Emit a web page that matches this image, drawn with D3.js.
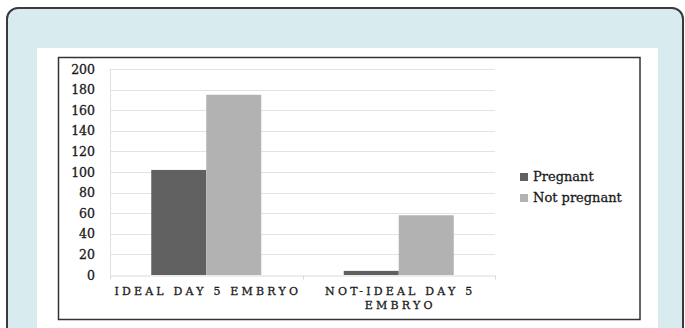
<!DOCTYPE html>
<html>
<head>
<meta charset="utf-8">
<script src="https://cdn.jsdelivr.net/npm/d3@7"></script>
<style>
  body { margin: 0; background: #fff; }
  svg { display: block; }
  svg text { stroke: #1a1a1a; stroke-width: 0.3px; }
</style>
</head>
<body>
<div id="chart"></div>
<script>
var categories = ['IDEAL DAY 5 EMBRYO', 'NOT-IDEAL DAY 5 EMBRYO'];
var categoryLines = [['IDEAL DAY 5 EMBRYO'], ['NOT-IDEAL DAY 5', 'EMBRYO']];
var series = ['Pregnant', 'Not pregnant'];
var pregnant = [102, 4];
var notPregnant = [175, 58];
var yTicks = [0, 20, 40, 60, 80, 100, 120, 140, 160, 180, 200];
var colors = ['#606060', '#b2b2b2'];

var w = 685, h = 328;
var serif = "'DejaVu Serif', 'Liberation Serif', serif";

var svg = d3.select('#chart').append('svg')
  .attr('width', w)
  .attr('height', h);

// light blue card
svg.append('rect')
  .attr('x', 7).attr('y', 8)
  .attr('width', 676).attr('height', 340)
  .attr('rx', 11)
  .attr('fill', '#d8ecf0')
  .attr('stroke', '#3a3a3a')
  .attr('stroke-width', 2);

// white sheet
svg.append('rect')
  .attr('x', 37).attr('y', 48)
  .attr('width', 621).attr('height', 290)
  .attr('fill', '#fff');

// chart frame
svg.append('rect')
  .attr('x', 58.5).attr('y', 57.5)
  .attr('width', 581.5).attr('height', 262)
  .attr('fill', 'none')
  .attr('stroke', '#333')
  .attr('stroke-width', 1.5);

var x = d3.scaleBand().domain(categories).range([110, 495]).padding(0);
var xs = d3.scaleBand().domain(series).range([0, x.bandwidth()]).paddingInner(0).paddingOuter(0.75);
var y = d3.scaleLinear().domain([0, 200]).range([275, 69]);

// gridlines
svg.append('g').selectAll('line')
  .data(yTicks.filter(function (d) { return d > 0; }))
  .enter().append('line')
  .attr('x1', 110).attr('x2', 495)
  .attr('y1', function (d) { return Math.round(y(d)) + 0.5; })
  .attr('y2', function (d) { return Math.round(y(d)) + 0.5; })
  .attr('stroke', '#e3e3e3');

// vertical axis line
svg.append('line')
  .attr('x1', 110.5).attr('x2', 110.5)
  .attr('y1', y(200)).attr('y2', y(0))
  .attr('stroke', '#e0e0e0');

// y labels
var yAxis = d3.axisLeft(y).tickValues(yTicks).tickSize(0).tickPadding(15);
var gy = svg.append('g').attr('transform', 'translate(110,0)').call(yAxis);
gy.select('.domain').remove();
gy.selectAll('text')
  .attr('font-family', serif)
  .attr('font-size', '12.5px')
  .attr('fill', '#1a1a1a');

// bars
var rows = categories.map(function (c, i) {
  return { cat: c, vals: [pregnant[i], notPregnant[i]] };
});
var groups = svg.append('g').selectAll('g')
  .data(rows)
  .enter().append('g')
  .attr('transform', function (d) { return 'translate(' + x(d.cat) + ',0)'; });

groups.selectAll('rect')
  .data(function (d) { return d.vals.map(function (v, j) { return { s: series[j], v: v, j: j }; }); })
  .enter().append('rect')
  .attr('x', function (d) { return xs(d.s); })
  .attr('width', xs.bandwidth())
  .attr('y', function (d) { return y(d.v); })
  .attr('height', function (d) { return y(0) - y(d.v); })
  .attr('fill', function (d) { return colors[d.j]; });

// x axis
var xAxis = d3.axisBottom(x).tickSize(0).tickFormat('');
var gx = svg.append('g').attr('transform', 'translate(0,' + (y(0) + 0.5) + ')').call(xAxis);
gx.select('.domain').attr('stroke', '#d9d9d9');
gx.selectAll('.tick').remove();

var bounds = [110, 110 + x.bandwidth(), 495];
gx.selectAll('line.sep')
  .data(bounds)
  .enter().append('line')
  .attr('class', 'sep')
  .attr('x1', function (d) { return Math.round(d) + 0.5; })
  .attr('x2', function (d) { return Math.round(d) + 0.5; })
  .attr('y1', 0).attr('y2', 4)
  .attr('stroke', '#d9d9d9');

// category labels
categories.forEach(function (c, i) {
  var t = svg.append('text')
    .attr('x', x(c) + x.bandwidth() / 2 + 1.5)
    .attr('y', 295)
    .attr('text-anchor', 'middle')
    .attr('font-family', serif)
    .attr('font-size', '11px')
    .attr('letter-spacing', '3.2px')
    .attr('fill', '#1a1a1a');
  categoryLines[i].forEach(function (line, k) {
    t.append('tspan')
      .attr('x', x(c) + x.bandwidth() / 2 + 1.5)
      .attr('dy', k === 0 ? 0 : 14)
      .text(line);
  });
});

// legend
var legend = svg.append('g').attr('transform', 'translate(520,173)');
var li = legend.selectAll('g')
  .data(series)
  .enter().append('g')
  .attr('transform', function (d, i) { return 'translate(0,' + i * 21 + ')'; });
li.append('rect')
  .attr('width', 8).attr('height', 8)
  .attr('fill', function (d, i) { return colors[i]; });
li.append('text')
  .attr('x', 13).attr('y', 8)
  .attr('font-family', serif)
  .attr('font-size', '13px')
  .attr('fill', '#1a1a1a')
  .text(function (d) { return d; });
</script>
</body>
</html>
